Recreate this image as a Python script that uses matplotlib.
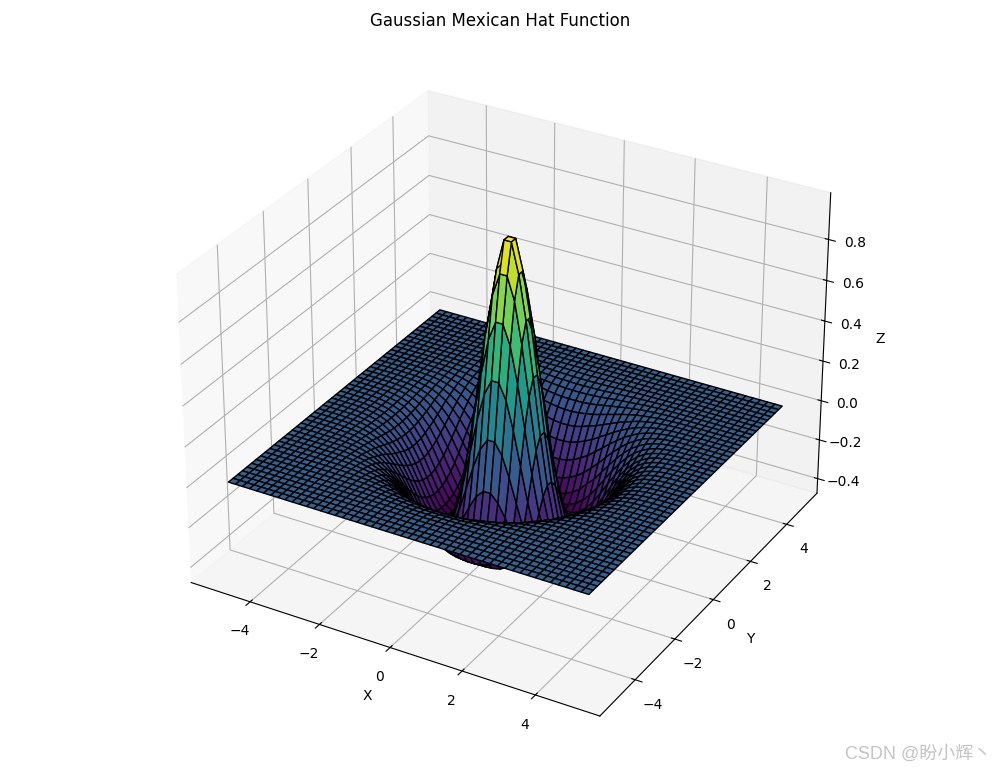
import numpy as np
import matplotlib
matplotlib.use('Agg')
import matplotlib.pyplot as plt

plt.rcParams['font.family'] = ['DejaVu Sans', 'Noto Sans CJK SC']

x_min, x_max, grid_n = -5, 5, 50
z_ticks = [-0.4, -0.2, 0.0, 0.2, 0.4, 0.6, 0.8]
title = 'Gaussian Mexican Hat Function'
watermark = 'CSDN @盼小辉丶'

# heights for one quadrant, upper triangle, first value of each row is on the diagonal
quad_rows = [
    [.995, .850, .636, .369, .095, -.143, -.318, -.416, -.446, -.421, -.361, -.287, -.212, -.148, -.097, -.060, -.035, -.020, -.011, -.006, -.003, -.001, -.001, 0, 0],
    [.741, .541, .293, .039, -.180, -.338, -.425, -.445, -.416, -.354, -.280, -.207, -.144, -.094, -.059, -.034, -.019, -.011, -.005, -.002, -.001, -.001, 0, 0],
    [.369, .156, -.060, -.243, -.370, -.436, -.442, -.405, -.340, -.267, -.195, -.135, -.088, -.055, -.032, -.018, -.010, -.005, -.002, -.001, 0, 0, 0],
    [-.012, -.180, -.318, -.408, -.445, -.433, -.386, -.320, -.247, -.180, -.122, -.081, -.050, -.029, -.017, -.009, -.004, -.002, -.001, -.001, 0, 0],
    [-.295, -.385, -.436, -.444, -.416, -.361, -.293, -.224, -.161, -.110, -.071, -.043, -.025, -.014, -.007, -.004, -.002, -.001, 0, 0, 0],
    [-.430, -.446, -.430, -.386, -.321, -.260, -.195, -.139, -.094, -.060, -.036, -.021, -.012, -.006, -.003, -.001, -.001, 0, 0, 0],
    [-.433, -.398, -.348, -.287, -.224, -.165, -.117, -.078, -.050, -.030, -.017, -.010, -.005, -.003, -.001, -.001, 0, 0, 0],
    [-.354, -.300, -.240, -.185, -.135, -.094, -.062, -.039, -.023, -.014, -.007, -.004, -.002, -.001, 0, 0, 0, 0],
    [-.247, -.195, -.148, -.107, -.073, -.049, -.030, -.018, -.011, -.006, -.003, -.002, -.001, 0, 0, 0, 0],
    [-.152, -.113, -.080, -.055, -.036, -.022, -.013, -.007, -.004, -.002, -.001, -.001, 0, 0, 0, 0],
    [-.083, -.059, -.039, -.025, -.016, -.009, -.005, -.003, -.002, -.001, 0, 0, 0, 0, 0],
    [-.040, -.027, -.017, -.011, -.006, -.003, -.002, -.001, 0, 0, 0, 0, 0, 0],
    [-.018, -.011, -.007, -.004, -.002, -.001, -.001, 0, 0, 0, 0, 0, 0],
    [-.007, -.004, -.002, -.001, -.001, 0, 0, 0, 0, 0, 0, 0],
    [-.003, -.001, -.001, 0, 0, 0, 0, 0, 0, 0, 0],
    [-.001, 0, 0, 0, 0, 0, 0, 0, 0, 0],
]

# rebuild the full grid from the quadrant
half = grid_n // 2
quad = np.zeros((half, half))
for i, row in enumerate(quad_rows):
    quad[i, i:i + len(row)] = row
    quad[i:i + len(row), i] = row
order = np.r_[half - 1:-1:-1, 0:half]
Z = quad[np.ix_(order, order)]

x = np.linspace(x_min, x_max, grid_n)
y = np.linspace(x_min, x_max, grid_n)
X, Y = np.meshgrid(x, y)

fig = plt.figure(figsize=(10, 7.67), dpi=100)
ax = fig.add_axes([0.0355, 0.0066, 0.929, 0.9486], projection='3d')
ax.plot_surface(X, Y, Z, cmap='viridis', edgecolor='k')
ax.set_zticks(z_ticks)
ax.set_xlabel('X')
ax.set_ylabel('Y')
ax.set_zlabel('Z')
ax.set_title(title)

fig.text(0.991, 0.006, watermark, ha='right', va='bottom', fontsize=13,
         color='#c4c4c4', family=['Liberation Sans', 'Noto Sans CJK SC'])

fig.savefig('out.png', dpi=100)
